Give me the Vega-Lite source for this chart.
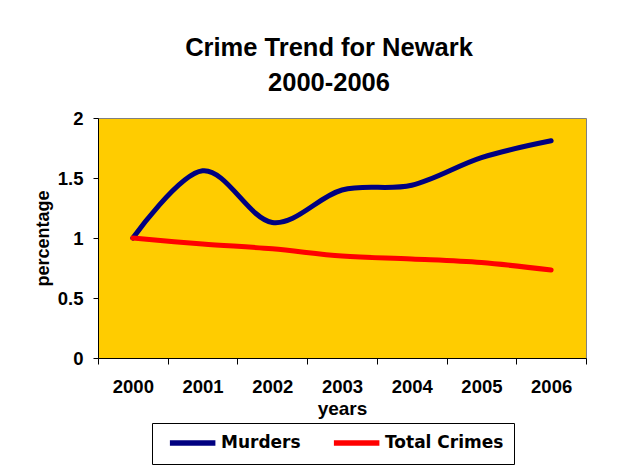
{
  "$schema": "https://vega.github.io/schema/vega-lite/v6.json",
  "width": 488,
  "height": 240,
  "autosize": {"type": "none"},
  "padding": {"left": 98, "top": 118, "right": 34, "bottom": 107},
  "background": "white",
  "title": {
    "text": ["Crime Trend for Newark", "2000-2006"],
    "font": "Liberation Sans",
    "fontSize": 25.5,
    "fontWeight": "bold",
    "lineHeight": 35,
    "anchor": "middle",
    "dx": -13,
    "offset": 13,
    "color": "black"
  },
  "data": {
    "values": [
      {"year": "2000", "series": "Murders", "value": 1.0},
      {"year": "2001", "series": "Murders", "value": 1.56},
      {"year": "2002", "series": "Murders", "value": 1.13},
      {"year": "2003", "series": "Murders", "value": 1.40},
      {"year": "2004", "series": "Murders", "value": 1.44},
      {"year": "2005", "series": "Murders", "value": 1.67},
      {"year": "2006", "series": "Murders", "value": 1.81},
      {"year": "2000", "series": "Total Crimes", "value": 1.0},
      {"year": "2001", "series": "Total Crimes", "value": 0.95},
      {"year": "2002", "series": "Total Crimes", "value": 0.91},
      {"year": "2003", "series": "Total Crimes", "value": 0.85},
      {"year": "2004", "series": "Total Crimes", "value": 0.825},
      {"year": "2005", "series": "Total Crimes", "value": 0.795},
      {"year": "2006", "series": "Total Crimes", "value": 0.733}
    ]
  },
  "mark": {"type": "line", "interpolate": "cardinal", "strokeWidth": 5, "strokeCap": "round"},
  "encoding": {
    "x": {
      "field": "year",
      "type": "ordinal",
      "bandPosition": 0.5,
      "scale": {"type": "band", "paddingInner": 0, "paddingOuter": 0},
      "axis": {
        "title": "years",
        "labelAngle": 0,
        "tickBand": "extent",
        "tickSize": 6,
        "tickColor": "black",
        "domainColor": "black",
        "grid": false,
        "labelFont": "Liberation Sans",
        "labelFontSize": 18.5,
        "labelFontWeight": "bold",
        "labelColor": "black",
        "labelPadding": 13,
        "titleFont": "Liberation Sans",
        "titleFontSize": 19,
        "titleFontWeight": "bold",
        "titleColor": "black",
        "titlePadding": 4
      }
    },
    "y": {
      "field": "value",
      "type": "quantitative",
      "scale": {"domain": [0, 2], "nice": false, "zero": true},
      "axis": {
        "title": "percentage",
        "values": [0, 0.5, 1, 1.5, 2],
        "format": "~g",
        "grid": false,
        "tickSize": 5,
        "tickColor": "black",
        "domainColor": "black",
        "labelFont": "Liberation Sans",
        "labelFontSize": 18.5,
        "labelFontWeight": "bold",
        "labelColor": "black",
        "labelPadding": 10,
        "titleFont": "Liberation Sans",
        "titleFontSize": 18,
        "titleFontWeight": "bold",
        "titleColor": "black",
        "titlePadding": 5
      }
    },
    "color": {
      "field": "series",
      "type": "nominal",
      "scale": {"domain": ["Murders", "Total Crimes"], "range": ["#000080", "#FF0000"]},
      "legend": {
        "orient": "none",
        "legendX": 54,
        "legendY": 305,
        "direction": "horizontal",
        "title": null,
        "strokeColor": "black",
        "fillColor": "white",
        "padding": 10,
        "symbolType": "M-0.3,0H6.2",
        "symbolStrokeWidth": 5.5,
        "symbolSize": 196,
        "labelFont": "DejaVu Sans",
        "labelFontSize": 17,
        "labelFontWeight": "bold",
        "labelColor": "black",
        "labelOffset": 39,
        "columnPadding": 21
      }
    }
  },
  "config": {
    "view": {"fill": "#FFCC00", "stroke": "#808080", "strokeWidth": 1}
  }
}
